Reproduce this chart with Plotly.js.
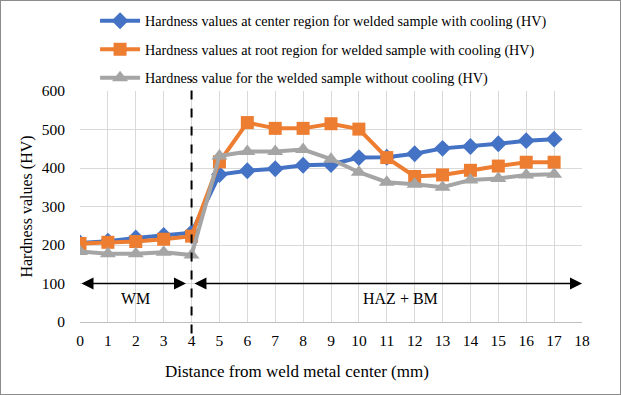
<!DOCTYPE html>
<html><head><meta charset="utf-8">
<script src="https://cdn.plot.ly/plotly-3.0.1.min.js"></script>
<style>body{margin:0;padding:0;background:#fff}#chart{width:621px;height:395px;box-sizing:border-box;border:1px solid #8c8c8c}</style>
</head><body><div id="chart"></div>
<script>
const distance = [0,1,2,3,4,5,6,7,8,9,10,11,12,13,14,15,16,17];
const centerCooling = [205,210,218,225,232,383,393,398,407,409,427,428,437,451,456,463,471,475];
const rootCooling = [204,207,209,215,223,416,518,503,503,515,501,427,378,382,394,405,415,415];
const noCooling = [183,177,177,181,174,431,443,443,448,423,389,363,358,350,369,373,382,384];
const names = [
  "Hardness values at center region for welded sample with cooling (HV)",
  "Hardness values at root region for welded sample with cooling (HV)",
  "Hardness value for the welded sample without cooling (HV)"
];
const xTicks = [0,1,2,3,4,5,6,7,8,9,10,11,12,13,14,15,16,17,18];
const yTicks = [0,100,200,300,400,500,600];
const xTitle = "Distance from weld metal center (mm)";
const yTitle = "Hardness values (HV)";
const SERIF = "Liberation Serif";

const traces = [
  {x: distance, y: centerCooling, name: names[0], legendgroup: "a", mode: "lines+markers",
   line: {color: "#4472C4", width: 4}, marker: {symbol: "diamond", size: 13, color: "#4472C4"}},
  {x: distance, y: rootCooling, name: names[1], legendgroup: "b", mode: "lines+markers",
   line: {color: "#ED7D31", width: 4}, marker: {symbol: "square", size: 13, color: "#ED7D31"}},
  {x: distance, y: noCooling, name: names[2], legendgroup: "c", mode: "lines+markers",
   line: {color: "#A5A5A5", width: 4}, marker: {symbol: "triangle-up", size: 14, color: "#A5A5A5"}}
];

const layout = {
  width: 619, height: 393,
  margin: {l: 79, r: 38, t: 90, b: 72, autoexpand: false},
  paper_bgcolor: "#fff", plot_bgcolor: "#fff",
  font: {family: SERIF, size: 15, color: "#000"},
  showlegend: true,
  legend: {x: 0.03, y: 1.372, xanchor: "left", yanchor: "top", font: {family: SERIF, size: 14.2, color: "#000"},
           tracegroupgap: 7, bgcolor: "rgba(0,0,0,0)", itemwidth: 40},
  xaxis: {range: [0, 18], tickvals: xTicks, ticktext: xTicks.map(String), showgrid: true, gridcolor: "#d9d9d9",
          zeroline: false, showline: true, linecolor: "#bfbfbf", linewidth: 1, ticks: "", ticklabelstandoff: 4,
          tickfont: {family: SERIF, size: 15.5, color: "#000"}},
  yaxis: {range: [0, 600], tickvals: yTicks, ticktext: yTicks.map(String), showgrid: true, gridcolor: "#d9d9d9",
          zeroline: false, showline: false, ticks: "", ticklabelstandoff: 14, tickfont: {family: SERIF, size: 15.5, color: "#000"},
          title: {text: yTitle, font: {family: SERIF, size: 16, color: "#000"}, standoff: 5}},
  shapes: [
    {type: "line", xref: "x", yref: "paper", x0: 4, x1: 4, y0: -0.05, y1: 1.05,
     line: {color: "#000", width: 2, dash: "dash"}}
  ],
  annotations: [
    {x: 3.8, y: 100, ax: 0, ay: 100, xref: "x", yref: "y", axref: "x", ayref: "y", text: "",
     showarrow: true, arrowside: "end+start", arrowhead: 2, arrowsize: 1.6, arrowwidth: 1.5, arrowcolor: "#000"},
    {x: 18, y: 100, ax: 4.05, ay: 100, xref: "x", yref: "y", axref: "x", ayref: "y", text: "",
     showarrow: true, arrowside: "end+start", arrowhead: 2, arrowsize: 1.6, arrowwidth: 1.5, arrowcolor: "#000"},
    {x: 2, y: 62, xref: "x", yref: "y", text: "WM", showarrow: false, font: {family: SERIF, size: 16, color: "#000"}},
    {x: 11.5, y: 62, xref: "x", yref: "y", text: "HAZ + BM", showarrow: false, font: {family: SERIF, size: 16, color: "#000"}},
    {x: 0.433, y: -0.216, xref: "paper", yref: "paper", xanchor: "center", yanchor: "middle", text: xTitle, showarrow: false,
     font: {family: SERIF, size: 17, color: "#000"}}
  ]
};
Plotly.newPlot("chart", traces, layout, {displayModeBar: false, staticPlot: true});
</script></body></html>
